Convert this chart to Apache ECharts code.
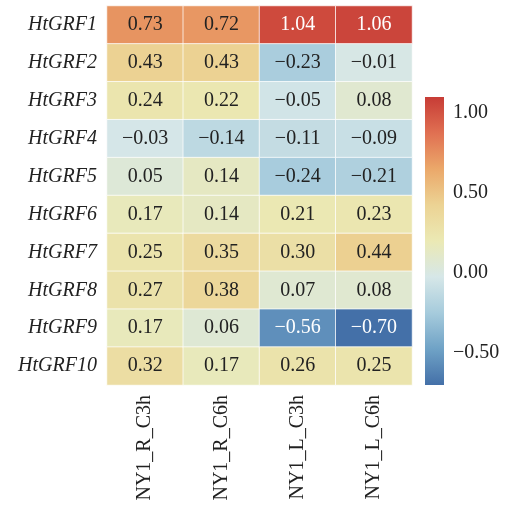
<!DOCTYPE html>
<html>
<head>
<meta charset="utf-8">
<script src="https://cdn.jsdelivr.net/npm/echarts@6/dist/echarts.min.js"></script>
<style>html,body{margin:0;padding:0;background:#fff}#c{width:511px;height:509px}</style>
</head>
<body>
<div id="c"></div>
<script>
// Gene names (rows, top to bottom) and treatment groups (columns)
const genes = ['HtGRF1','HtGRF2','HtGRF3','HtGRF4','HtGRF5','HtGRF6','HtGRF7','HtGRF8','HtGRF9','HtGRF10'];
const groups = ['NY1_R_C3h','NY1_R_C6h','NY1_L_C3h','NY1_L_C6h'];
// Expression values per group, in gene order
const R_C3h = [0.73, 0.43, 0.24, -0.03, 0.05, 0.17, 0.25, 0.27, 0.17, 0.32];
const R_C6h = [0.72, 0.43, 0.22, -0.14, 0.14, 0.14, 0.35, 0.38, 0.06, 0.17];
const L_C3h = [1.04, -0.23, -0.05, -0.11, -0.24, 0.21, 0.30, 0.07, -0.56, 0.26];
const L_C6h = [1.06, -0.01, 0.08, -0.09, -0.21, 0.23, 0.44, 0.08, -0.70, 0.25];
// Colour bar tick labels
const barTicks = [-0.5, 0, 0.5, 1.0];
// Diverging palette, low to high
const palette = ['#4470a8', '#6fa2c6', '#a6cbdc', '#d6e7e8', '#ebe9b4', '#ecd394', '#eba86a', '#e07052', '#c73c36'];
const vMin = -0.7, vMax = 1.1;

const columns = [R_C3h, R_C6h, L_C3h, L_C6h];
const cells = [];
columns.forEach((col, ci) => col.forEach((v, ri) => cells.push({
  value: [ci, ri, v],
  label: {color: (v > 0.9 || v < -0.5) ? '#fff' : '#222'}
})));

const fmt = v => (v < 0 ? '\u2212' : '') + Math.abs(v).toFixed(2);
const serif = 'Liberation Serif';

const chart = echarts.init(document.getElementById('c'), null, {renderer: 'canvas'});
chart.setOption({
  backgroundColor: '#fff',
  animation: false,
  grid: [
    {left: 107, right: 99, top: 6, bottom: 124},
    {left: 425, width: 19, top: 97, height: 288}
  ],
  xAxis: [
    {
      type: 'category', data: groups, gridIndex: 0,
      axisLine: {show: false}, axisTick: {show: false}, splitLine: {show: false},
      axisLabel: {rotate: 90, margin: 10, fontFamily: serif, fontSize: 20, color: '#222'}
    },
    {type: 'value', gridIndex: 1, show: false, min: 0, max: 1}
  ],
  yAxis: [
    {
      type: 'category', data: genes, inverse: true, gridIndex: 0,
      axisLine: {show: false}, axisTick: {show: false}, splitLine: {show: false},
      axisLabel: {margin: 10, fontFamily: serif, fontStyle: 'italic', fontSize: 20, color: '#222'}
    },
    {
      type: 'value', gridIndex: 1, position: 'right', min: vMin, max: vMax,
      axisLine: {show: false}, axisTick: {show: false}, splitLine: {show: false},
      axisLabel: {customValues: barTicks, margin: 9, fontFamily: serif, fontSize: 20, color: '#222',
        formatter: v => fmt(v)}
    }
  ],
  visualMap: {
    type: 'continuous', seriesIndex: 0, min: vMin, max: vMax, show: false,
    inRange: {color: palette}
  },
  series: [{
    type: 'heatmap', xAxisIndex: 0, yAxisIndex: 0, data: cells,
    itemStyle: {borderColor: 'rgba(255,255,255,0.75)', borderWidth: 1},
    label: {show: true, fontFamily: serif, fontSize: 20, formatter: p => fmt(p.value[2])}
  }]
});

// Colour bar: a square-cornered gradient filling the second grid
const tl = chart.convertToPixel({xAxisIndex: 1, yAxisIndex: 1}, [0, vMax]);
const br = chart.convertToPixel({xAxisIndex: 1, yAxisIndex: 1}, [1, vMin]);
chart.setOption({
  graphic: [{
    type: 'rect', silent: true,
    shape: {x: tl[0], y: tl[1], width: br[0] - tl[0], height: br[1] - tl[1]},
    style: {
      fill: new echarts.graphic.LinearGradient(0, 1, 0, 0,
        palette.map((c, i) => ({offset: i / (palette.length - 1), color: c})))
    }
  }]
});
</script>
</body>
</html>
